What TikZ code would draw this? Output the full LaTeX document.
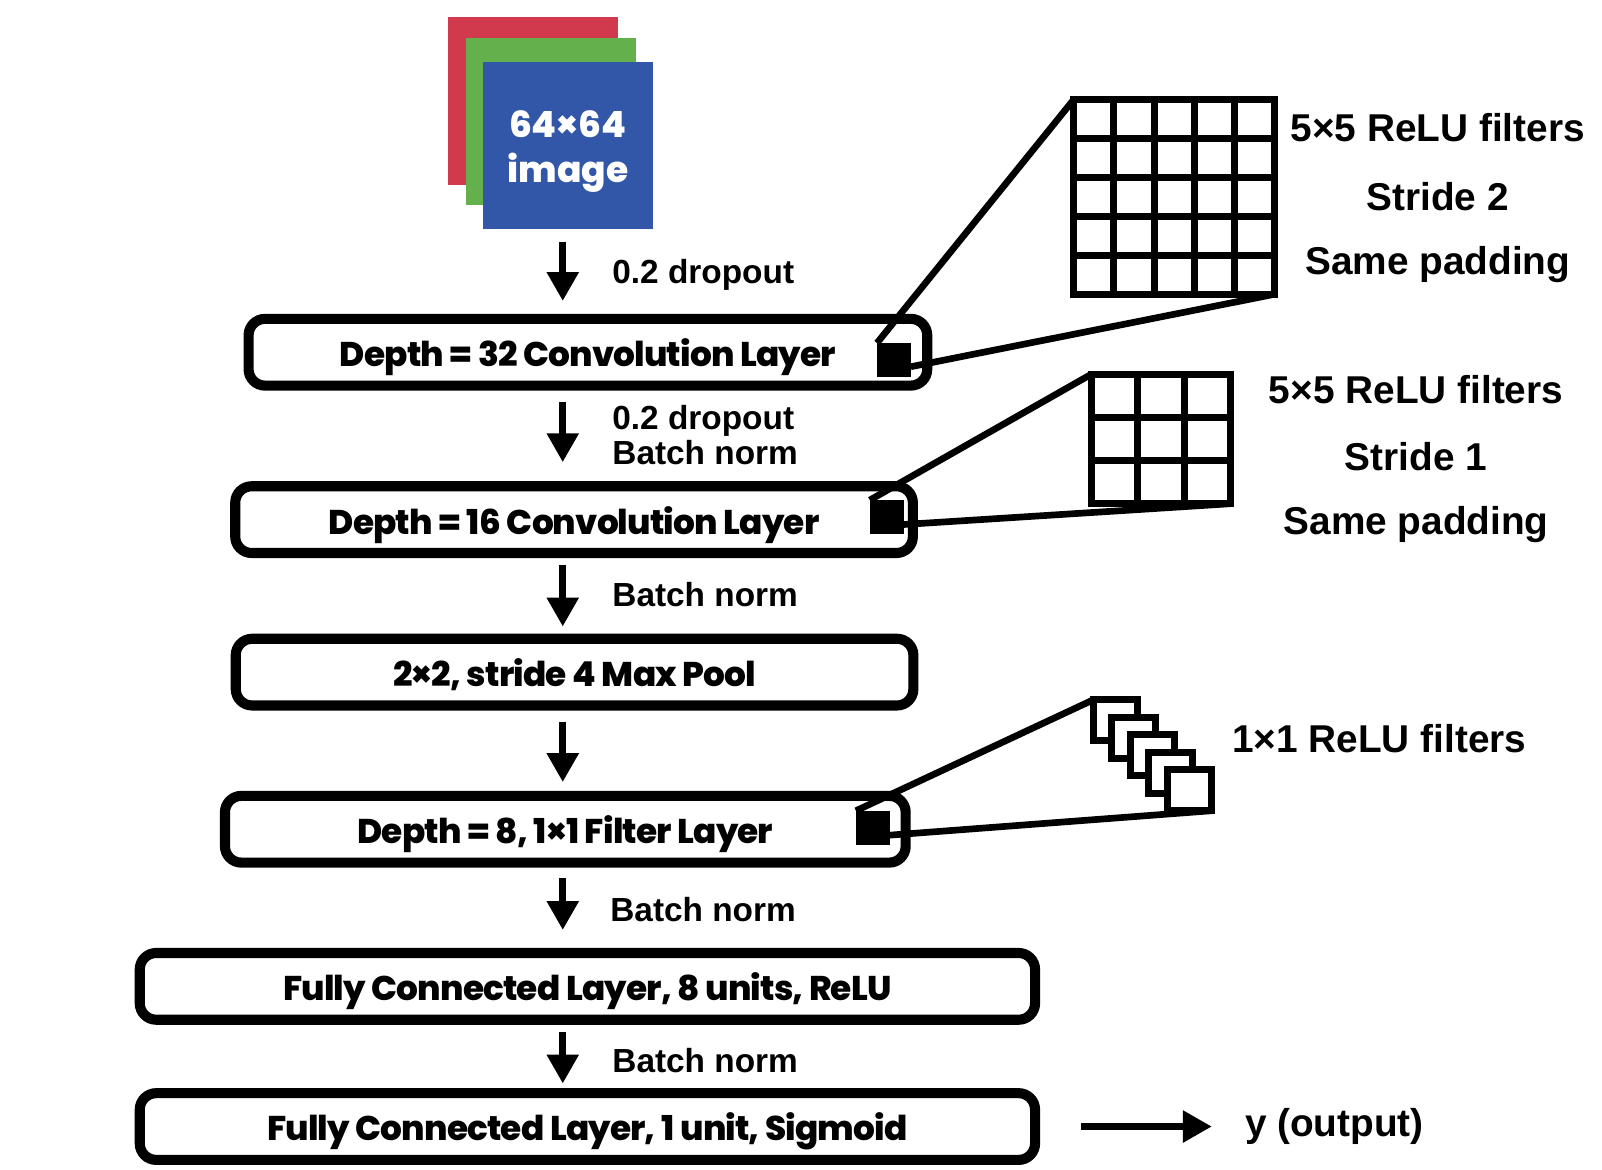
\documentclass[tikz,border=0pt]{standalone}
\usepackage{fontspec}
\setmainfont{Liberation Sans}
\newfontfamily\poppins{Poppins ExtraBold}[LetterSpace=-2.5]
\newfontfamily\poppinsimg{Poppins ExtraBold}
\usetikzlibrary{arrows.meta,positioning,calc}
\definecolor{chanRed}{HTML}{D03A4C}
\definecolor{chanGreen}{HTML}{63B04D}
\definecolor{chanBlue}{HTML}{3257A8}

\tikzset{
  layer/.style={draw, line width=5.6pt, rounded corners=0.32cm, outer sep=0pt,
    inner sep=0pt, minimum height=1.3cm, text height=16pt, text depth=0pt,
    font=\poppins\fontsize{19}{22}\selectfont},
  flow/.style={-{Triangle[length=16pt,width=17pt]}, line width=3.7pt},
  note/.style={inner sep=0pt, anchor=west, font=\bfseries\fontsize{18.5}{21}\selectfont},
  spec/.style={inner sep=0pt, font=\bfseries\fontsize{21.5}{25}\selectfont},
  pix/.style={fill=black, inner sep=0pt, outer sep=0pt, minimum size=0.66cm},
  kernel/.style={draw, line width=3.9pt, inner sep=0pt, outer sep=0pt},
  unit/.style={draw, fill=white, line width=3.9pt, inner sep=0pt, outer sep=0pt,
    minimum width=0.86cm, minimum height=0.8cm},
  zoomline/.style={line width=3.7pt},
}

\begin{document}
\begin{tikzpicture}[x=0.02cm, y=-0.02cm]
    \useasboundingbox (0,0) rectangle (1560,1139);

    % Input image (three channels)
    \fill[chanRed] (436,17) rectangle (602,180);
    \fill[chanGreen] (454,37) rectangle (619,200);
    \node[fill=chanBlue, inner sep=0pt, outer sep=0pt,
          minimum width=3.32cm, minimum height=3.26cm] (img) at (553,141.5) {};
    \node[text=white, inner sep=0pt, align=center,
          font=\poppinsimg\fontsize{20}{24.5}\selectfont]
          (imgtext) at ([yshift=-0.12cm]img.center) {64×64\\image};

    % Layers
    \node[layer, minimum width=13.22cm] (conv32) at (572.5,343) {Depth = 32 Convolution Layer};
    \node[layer, minimum width=13.2cm] (conv16) at (559,506) {Depth = 16 Convolution Layer};
    \node[layer, minimum width=13.2cm] (pool) at (559.5,654.5) {2×2, stride 4 Max Pool};
    \node[layer, minimum width=13.26cm] (filt8) at (550.5,807.5) {Depth = 8, 1×1 Filter Layer};
    \node[layer, minimum width=17.44cm] (fc8) at (572,960.5) {Fully Connected Layer, 8 units, ReLU};
    \node[layer, minimum width=17.44cm] (fc1) at (572,1097) {Fully Connected Layer, 1 unit, Sigmoid};

    % Flow arrows
    \coordinate (spine) at (548,0);
    \foreach \a/\b/\s/\e in {img/conv32/0.25/0.35, conv32/conv16/0.32/0.47,
                             conv16/pool/0.23/0.24, pool/filt8/0.32/0.27,
                             filt8/fc8/0.3/0.45, fc8/fc1/0.24/0.19} {
        \draw[flow, shorten <=\s cm, shorten >=\e cm] (spine |- \a.south) -- (spine |- \b.north);
    }

    % Arrow notes
    \node[note] (drop1) at (596,268) {0.2 dropout};
    \node[note] (drop2) at (596,410) {0.2 dropout};
    \node[note] (bn1) at (596,441) {Batch norm};
    \node[note] (bn2) at (596,579) {Batch norm};
    \node[note] (bn3) at (594,886) {Batch norm};
    \node[note] (bn4) at (596,1033) {Batch norm};

    % Output
    \node[spec, anchor=west] (yout) at (1212,1097) {y (output)};
    \draw[flow, shorten <=0.9cm, shorten >=0.64cm] (fc1.east) -- (yout.west);

    % Filter markers inside layers
    \node[pix] (sq1) at (870.5,350.5) {};
    \node[pix] (sq2) at (863.5,503.5) {};
    \node[pix] (sq3) at (850,806) {};

    % Zoom lines
    \node[kernel, minimum width=3.92cm, minimum height=3.79cm] (grid1) at (1143.5,191.75) {};
    \node[kernel, minimum width=2.72cm, minimum height=2.52cm] (grid2) at (1130.5,427.5) {};
    \draw[zoomline] (sq1.north west) -- (grid1.north west);
    \draw[zoomline] ($(sq1.south east)!0.3!(sq1.north east)$) -- (grid1.south east);
    \draw[zoomline] (sq2.north west) -- (grid2.north west);
    \draw[zoomline] ($(sq2.south east)!0.28!(sq2.north east)$) -- (grid2.south east);

    % 5x5 grid
    \foreach \i in {1,...,4} {
        \draw[line width=3.9pt] ($(grid1.north west)!\i/5!(grid1.north east)$) -- ($(grid1.south west)!\i/5!(grid1.south east)$);
        \draw[line width=3.9pt] ($(grid1.north west)!\i/5!(grid1.south west)$) -- ($(grid1.north east)!\i/5!(grid1.south east)$);
    }
    % 3x3 grid
    \foreach \i in {1,2} {
        \draw[line width=3.9pt] ($(grid2.north west)!\i/3!(grid2.north east)$) -- ($(grid2.south west)!\i/3!(grid2.south east)$);
        \draw[line width=3.9pt] ($(grid2.north west)!\i/3!(grid2.south west)$) -- ($(grid2.north east)!\i/3!(grid2.south east)$);
    }
    \node[kernel, minimum width=3.92cm, minimum height=3.79cm] at (grid1) {};
    \node[kernel, minimum width=2.72cm, minimum height=2.52cm] at (grid2) {};

    % 1x1 filter stack
    \foreach \i in {0,...,4} {
        \node[unit] (u\i) at ({1086+18*\i},{701.5+17*\i}) {};
    }
    \draw[zoomline] (sq3.north west) -- (u0.north west);
    \draw[zoomline] ($(sq3.south east)!0.28!(sq3.north east)$) -- (u4.south east);

    % Filter specs
    \node[spec] (k1a) at (1400,124.6) {5×5 ReLU filters};
    \node[spec] (k1b) at (1400,191) {Stride 2};
    \node[spec] (k1c) at (1400,258) {Same padding};
    \node[spec] (k2a) at (1379,379) {5×5 ReLU filters};
    \node[spec] (k2b) at (1379,444.6) {Stride 1};
    \node[spec] (k2c) at (1379,511) {Same padding};
    \node[spec] (k3a) at (1343,719) {1×1 ReLU filters};

\end{tikzpicture}
\end{document}
